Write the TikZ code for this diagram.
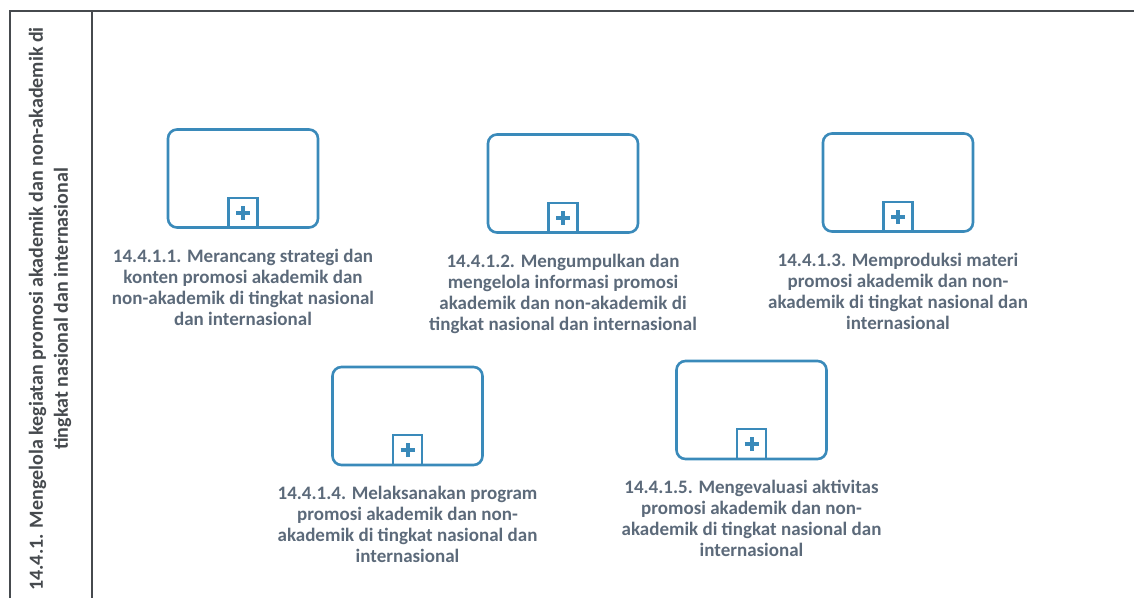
\documentclass[tikz,border=0pt]{standalone}
\usepackage{fontspec}
\setmainfont{Carlito}
\usetikzlibrary{positioning}
\definecolor{taskblue}{RGB}{58,138,186}
\definecolor{labelgray}{RGB}{92,106,122}
\definecolor{poolline}{RGB}{70,74,78}

\begin{document}
\begin{tikzpicture}[x=1pt,y=-1pt,
        task/.style={draw=taskblue, line width=2.6pt, rounded corners=9pt,
                minimum width=150pt, minimum height=98pt, inner sep=0pt},
        submark/.style={draw=taskblue, line width=2.2pt, minimum width=29pt,
                minimum height=30pt, inner sep=0pt, anchor=south},
        tasklabel/.style={text=labelgray, align=center, inner sep=0pt,
                font=\fontsize{19}{21}\selectfont\bfseries}
    ]
        \useasboundingbox (0,0) rectangle (1134,598);

        % pool and lane
        \draw[poolline, line width=1.4pt] (10,598) -- (10,11) -- (1134,11);
        \draw[poolline, line width=1.2pt] (92,11) -- (92,598);
        \node[rotate=90, align=center, text=poolline, inner sep=0pt,
                font=\fontsize{20}{25}\selectfont\bfseries] (lane) at (50,309)
                {14.4.1. Mengelola kegiatan promosi akademik dan non-akademik di\\
                 tingkat nasional dan internasional};

        % sub-processes
        \node[task] (t1) at (243,178.5) {};
        \node[task] (t2) at (563,183.5) {};
        \node[task] (t3) at (898,182.5) {};
        \node[task] (t4) at (407.5,416) {};
        \node[task] (t5) at (751.5,410) {};

        \foreach \t in {t1,t2,t3,t4,t5} {
                \node[submark] (\t m) at (\t.south) {};
                \draw[taskblue, line width=4pt] ([xshift=-7pt]\t m.center) -- ([xshift=7pt]\t m.center);
                \draw[taskblue, line width=4pt] ([yshift=-7pt]\t m.center) -- ([yshift=7pt]\t m.center);
            }

        % labels
        \node[tasklabel, below=20pt of t1] (l1)
                {14.4.1.1. Merancang strategi dan\\ konten promosi akademik dan\\
                 non-akademik di tingkat nasional\\ dan internasional};
        \node[tasklabel, below=20pt of t2] (l2)
                {14.4.1.2. Mengumpulkan dan\\ mengelola informasi promosi\\
                 akademik dan non-akademik di\\ tingkat nasional dan internasional};
        \node[tasklabel, below=20pt of t3] (l3)
                {14.4.1.3. Memproduksi materi\\ promosi akademik dan non-\\
                 akademik di tingkat nasional dan\\ internasional};
        \node[tasklabel, below=20pt of t4] (l4)
                {14.4.1.4. Melaksanakan program\\ promosi akademik dan non-\\
                 akademik di tingkat nasional dan\\ internasional};
        \node[tasklabel, below=20pt of t5] (l5)
                {14.4.1.5. Mengevaluasi aktivitas\\ promosi akademik dan non-\\
                 akademik di tingkat nasional dan\\ internasional};
    \end{tikzpicture}
\end{document}
